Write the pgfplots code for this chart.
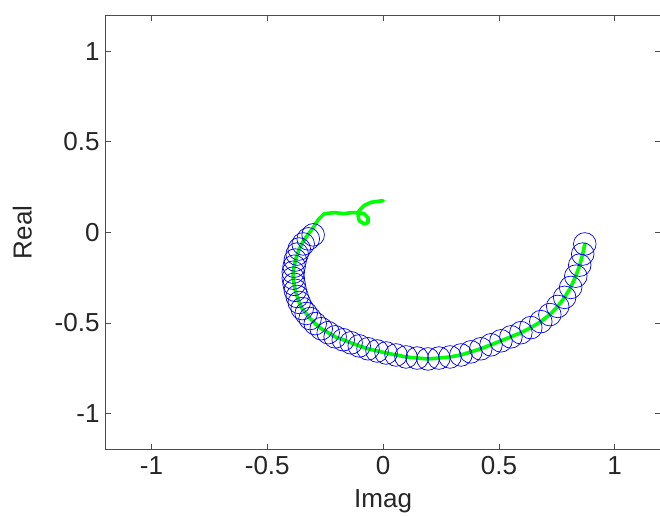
\documentclass[border=0pt]{standalone}
\usepackage{fontspec}
\setmainfont{Liberation Sans}
\usepackage{pgfplots}
\pgfplotsset{compat=1.18}
\usetikzlibrary{calc}
\definecolor{mlgreen}{RGB}{0,255,0}
\definecolor{mlblue}{RGB}{0,0,235}

\begin{document}
\begin{tikzpicture}
\begin{axis}[
  scale only axis, width=555pt, height=434pt,
  xmin=-1.2, xmax=1.2, ymin=-1.2, ymax=1.2,
  xtick={-1,-0.5,0,0.5,1}, ytick={-1,-0.5,0,0.5,1},
  tick align=inside, major tick length=6pt,
  axis line style={black!70}, tick style={black!70, line width=0.6pt},
  /pgf/number format/assume math mode=true,
  ticklabel style={font=\fontsize{26}{26}\selectfont, text=black!85},
  label style={font=\fontsize{26}{26}\selectfont, text=black!85},
  xlabel={Imag}, ylabel={Real},
  xlabel style={yshift=-8pt}, ylabel style={yshift=16pt},
  xticklabel style={yshift=-3pt}, yticklabel style={xshift=-2pt},
]
% blue circles
\addplot[only marks, mark=o, mark size=11.3pt, mlblue, mark options={line width=0.7pt}] coordinates {
(-0.302,-0.014) (-0.323,-0.036) (-0.345,-0.064) (-0.362,-0.092) (-0.371,-0.120)
(-0.379,-0.153) (-0.384,-0.187) (-0.388,-0.220) (-0.388,-0.253) (-0.384,-0.287)
(-0.379,-0.320) (-0.371,-0.354) (-0.362,-0.387) (-0.349,-0.421) (-0.332,-0.448)
(-0.315,-0.476) (-0.293,-0.504) (-0.267,-0.532) (-0.237,-0.554) (-0.207,-0.577)
(-0.172,-0.593) (-0.138,-0.610) (-0.103,-0.627) (-0.065,-0.643) (-0.026,-0.655)
(0.013,-0.666) (0.056,-0.677) (0.099,-0.688) (0.147,-0.694) (0.194,-0.699)
(0.241,-0.694) (0.289,-0.688) (0.336,-0.677) (0.379,-0.660) (0.422,-0.643)
(0.466,-0.621) (0.509,-0.599) (0.552,-0.577) (0.595,-0.554) (0.638,-0.526)
(0.681,-0.493) (0.720,-0.454) (0.754,-0.409) (0.784,-0.359) (0.810,-0.304)
(0.832,-0.242) (0.849,-0.181) (0.862,-0.120) (0.871,-0.064)
};
% green trajectory
\addplot[mlgreen, line width=3.6pt, line join=round, line cap=round] coordinates {
(0.000,0.175) (-0.052,0.166) (-0.082,0.148) (-0.103,0.120) (-0.108,0.092)
(-0.103,0.064) (-0.082,0.047) (-0.065,0.053) (-0.065,0.081) (-0.082,0.103)
(-0.108,0.109) (-0.138,0.109) (-0.168,0.103) (-0.211,0.109) (-0.254,0.103)
(-0.280,0.070) (-0.302,0.025) (-0.323,-0.010) (-0.345,-0.050) (-0.362,-0.092)
(-0.375,-0.140) (-0.384,-0.187) (-0.388,-0.220) (-0.388,-0.253) (-0.384,-0.287)
(-0.379,-0.320) (-0.371,-0.354) (-0.362,-0.387) (-0.349,-0.421) (-0.332,-0.448)
(-0.315,-0.476) (-0.293,-0.504) (-0.267,-0.532) (-0.237,-0.554) (-0.207,-0.577)
(-0.172,-0.593) (-0.138,-0.610) (-0.103,-0.627) (-0.065,-0.643) (-0.026,-0.655)
(0.013,-0.666) (0.056,-0.677) (0.099,-0.688) (0.147,-0.694) (0.194,-0.699)
(0.241,-0.694) (0.289,-0.688) (0.336,-0.677) (0.379,-0.660) (0.422,-0.643)
(0.466,-0.621) (0.509,-0.599) (0.552,-0.577) (0.595,-0.554) (0.638,-0.526)
(0.681,-0.493) (0.720,-0.454) (0.754,-0.409) (0.784,-0.359) (0.810,-0.304)
(0.832,-0.242) (0.849,-0.181) (0.862,-0.120) (0.871,-0.064)
};
\end{axis}
\pgfresetboundingbox
\useasboundingbox ($(current axis.south west)+(-105pt,-66pt)$) rectangle ($(current axis.north east)+(-1pt,15pt)$);
\end{tikzpicture}
\end{document}
